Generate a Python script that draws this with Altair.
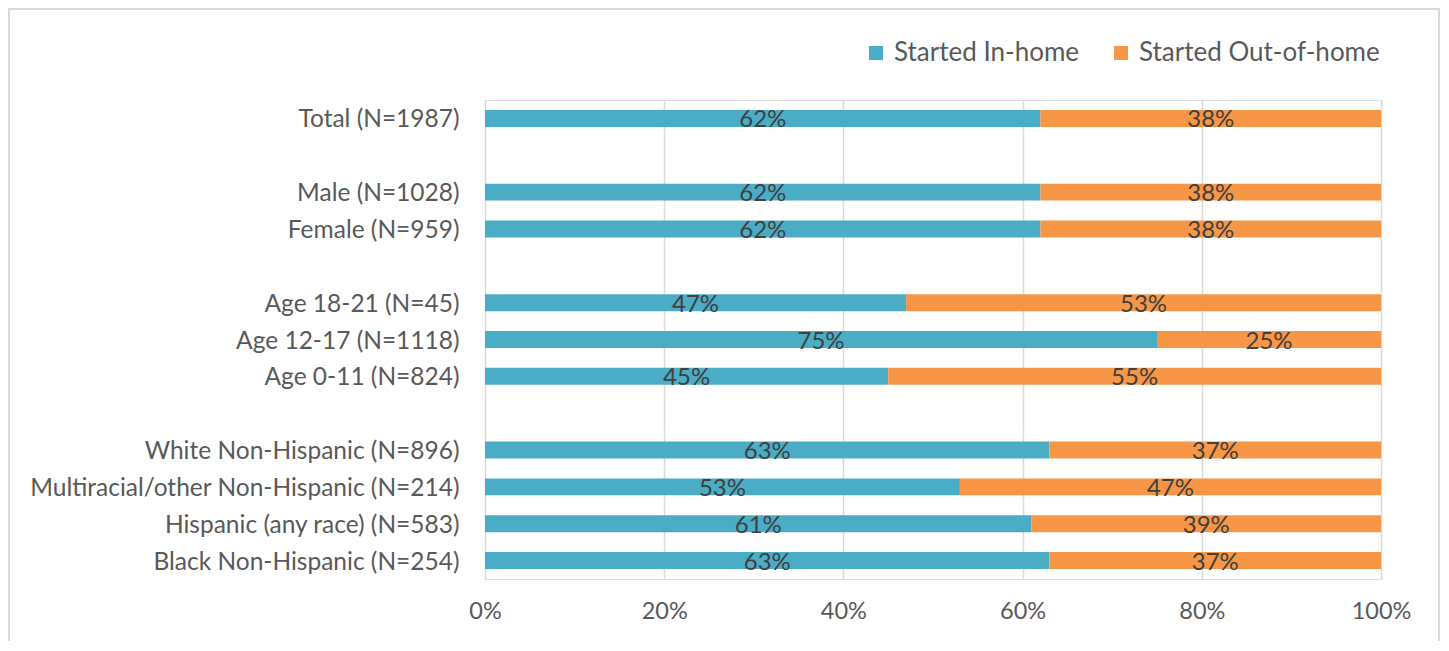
import altair as alt
import pandas as pd

categories = [
    "Total (N=1987)",
    "Male (N=1028)",
    "Female (N=959)",
    "Age 18-21 (N=45)",
    "Age 12-17 (N=1118)",
    "Age 0-11 (N=824)",
    "White Non-Hispanic (N=896)",
    "Multiracial/other Non-Hispanic (N=214)",
    "Hispanic (any race) (N=583)",
    "Black Non-Hispanic (N=254)",
]
in_home = [62, 62, 62, 47, 75, 45, 63, 53, 61, 63]
out_home = [38, 38, 38, 53, 25, 55, 37, 47, 39, 37]
series = ["Started In-home", "Started Out-of-home"]
colors = ["#4BACC6", "#F79646"]
x_ticks = [0, 0.2, 0.4, 0.6, 0.8, 1.0]

# row order with blank spacer rows between groups
row_order = [
    categories[0], " ",
    categories[1], categories[2], "  ",
    categories[3], categories[4], categories[5], "   ",
    categories[6], categories[7], categories[8], categories[9],
]

rows = []
for c, a, b in zip(categories, in_home, out_home):
    rows.append({"category": c, "series": series[0], "value": a / 100, "order": 0})
    rows.append({"category": c, "series": series[1], "value": b / 100, "order": 1})
df = pd.DataFrame(rows)

FONT = "Lato"

y_enc = alt.Y(
    "category:N",
    scale=alt.Scale(domain=row_order, paddingInner=0.54, paddingOuter=0.27),
    axis=alt.Axis(
        title=None, ticks=False, domain=False, grid=False,
        labelFontSize=24.5, labelColor="#595959", labelFont=FONT,
        labelPadding=26, labelLimit=0, labelOffset=2,
    ),
)

base = alt.Chart(df).transform_stack(
    stack="value", groupby=["category"], as_=["x0", "x1"],
    sort=[alt.SortField("order", order="ascending")],
).transform_calculate(mid="(datum.x0 + datum.x1) / 2")

bars = base.mark_bar().encode(
    y=y_enc,
    x=alt.X(
        "x0:Q",
        scale=alt.Scale(domain=[0, 1], nice=False),
        axis=alt.Axis(
            title=None, format=".0%", values=x_ticks, ticks=False, domain=False,
            grid=True, gridColor="#D9D9D9", gridWidth=1.5,
            labelFontSize=23.5, labelColor="#595959", labelFont=FONT,
            labelPadding=20, labelFlush=False,
        ),
    ),
    x2="x1:Q",
    color=alt.Color(
        "series:N",
        scale=alt.Scale(domain=series, range=colors),
        legend=alt.Legend(
            title=None, orient="none", legendX=378, legendY=-60,
            direction="horizontal", symbolType="square", symbolSize=196,
            symbolStrokeWidth=0, labelFontSize=26, labelColor="#595959",
            labelFont=FONT, columnPadding=28, labelOffset=5, labelLimit=0,
        ),
    ),
    order=alt.Order("order:Q"),
)

text = base.mark_text(fontSize=24, color="#404040", font=FONT, dy=2).encode(
    y=alt.Y("category:N"),
    x=alt.X("mid:Q"),
    text=alt.Text("value:Q", format=".0%"),
)

frame = alt.Chart(pd.DataFrame({"f": [0]})).mark_rect(
    filled=False, stroke="#D9D9D9", strokeWidth=2
).encode(
    x=alt.value(-476), x2=alt.value(954), y=alt.value(-91), y2=alt.value(560)
)

chart = alt.layer(frame, bars, text).properties(
    width=896, height=479,
    autosize=alt.AutoSizeParams(type="none"),
    padding={"left": 477, "top": 92, "right": 60, "bottom": 62},
).configure_view(stroke=None).configure(background="white")

chart.save("out.html", embed_options={"renderer": "svg", "actions": False})
